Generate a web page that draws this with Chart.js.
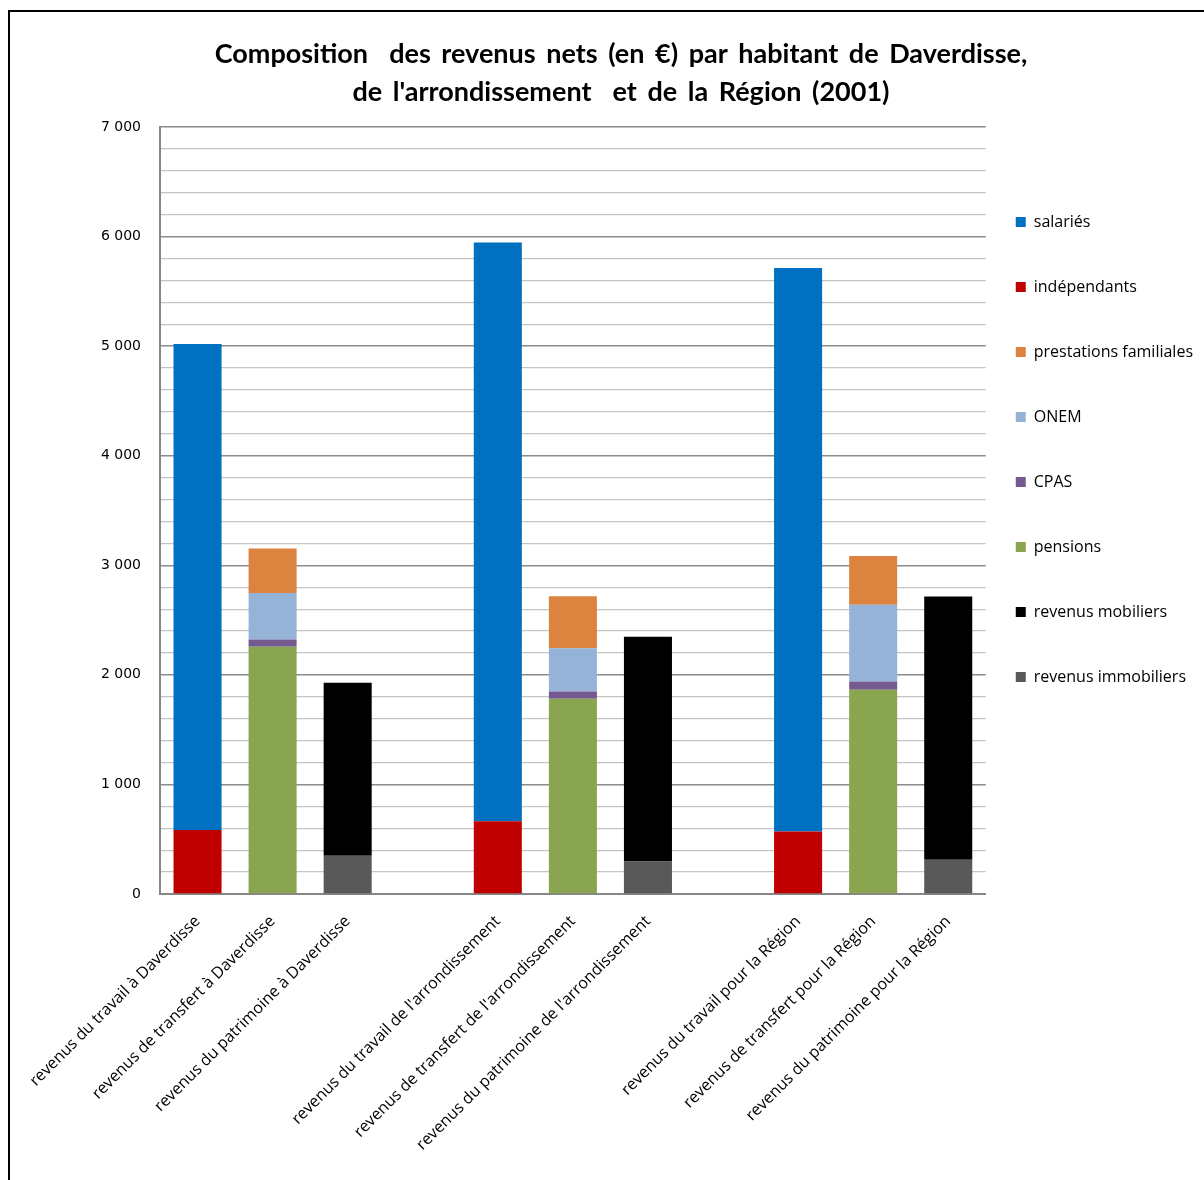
<!DOCTYPE html>
<html>
<head>
<meta charset="utf-8">
<script src="https://cdn.jsdelivr.net/npm/chart.js@4.4.1/dist/chart.umd.min.js"></script>
<style>
  html, body { margin: 0; padding: 0; background: #fff; overflow: hidden; width: 1204px; height: 1180px; }
  #frame { position: absolute; left: 8px; top: 10px; width: 1300px; height: 1300px; border-left: 2px solid #000; border-top: 2px solid #000; }
  #wrap { position: absolute; left: 11px; top: 13px; width: 1220px; height: 1167px; }
</style>
</head>
<body>
<div id="frame"></div>
<div id="wrap"><canvas id="c"></canvas></div>
<script>
const categories = [
  "revenus du travail à Daverdisse",
  "revenus de transfert à Daverdisse",
  "revenus du patrimoine à Daverdisse",
  "",
  "revenus du travail de l'arrondissement",
  "revenus de transfert de l'arrondissement",
  "revenus du patrimoine de l'arrondissement",
  "",
  "revenus du travail pour la Région",
  "revenus de transfert pour la Région",
  "revenus du patrimoine pour la Région"
];
const salaries      = [4435, null, null, null, 5280, null, null, null, 5143, null, null];
const independants  = [585,  null, null, null, 665,  null, null, null, 570,  null, null];
const prestations   = [null, 406,  null, null, null, 475,  null, null, null, 444,  null];
const onem          = [null, 423,  null, null, null, 396,  null, null, null, 701,  null];
const cpas          = [null, 67,   null, null, null, 64,   null, null, null, 76,   null];
const pensions      = [null, 2256, null, null, null, 1783, null, null, null, 1863, null];
const mobiliers     = [null, null, 1579, null, null, null, 2051, null, null, null, 2404];
const immobiliers   = [null, null, 348,  null, null, null, 296,  null, null, null, 312];
const yTicks = [0, 1000, 2000, 3000, 4000, 5000, 6000, 7000];

function ds(label, data, color) {
  return { label, data, backgroundColor: color, borderWidth: 0,
           categoryPercentage: 1.0, barPercentage: 0.64 };
}

const fmt = v => String(v).replace(/\B(?=(\d{3})+(?!\d))/g, ' ');

const layoutTweaks = {
  id: 'layoutTweaks',
  afterLayout(chart) {
    chart.legend.left -= 19;
    chart.legend.right -= 19;
  },
  beforeDraw(chart) {
    const t = chart.titleBlock;
    if (t && !t._spaced) {
      const orig = t.draw;
      t.draw = function () {
        const c = this.ctx;
        c.save();
        c.wordSpacing = '4px';
        orig.apply(this, arguments);
        c.restore();
      };
      t._spaced = true;
    }
  }
};

const chart = new Chart(document.getElementById('c'), {
  type: 'bar',
  data: {
    labels: categories,
    datasets: [
      ds('revenus immobiliers', immobiliers, '#595959'),
      ds('revenus mobiliers', mobiliers, '#000000'),
      ds('pensions', pensions, '#8AA54F'),
      ds('CPAS', cpas, '#745A8F'),
      ds('ONEM', onem, '#95B3D7'),
      ds('prestations familiales', prestations, '#DC843F'),
      ds('indépendants', independants, '#C00000'),
      ds('salariés', salaries, '#0070C0')
    ]
  },
  plugins: [layoutTweaks],
  options: {
    responsive: true,
    maintainAspectRatio: false,
    animation: false,
    layout: { padding: { left: 9, right: 9, top: 0, bottom: 0 } },
    plugins: {
      tooltip: { enabled: false },
      title: {
        display: true,
        text: ["Composition  des revenus nets (en €) par habitant de Daverdisse,", "de l'arrondissement  et de la Région (2001)"],
        font: { family: 'Lato', size: 27, weight: 'bold', lineHeight: 1.407 },
        color: '#000',
        padding: { top: 22, bottom: 16 }
      },
      legend: {
        position: 'right',
        align: 'start',
        reverse: true,
        maxWidth: 245,
        title: { display: true, text: ' ', font: { size: 10, lineHeight: 1.2 }, padding: { top: 140, bottom: 0 } },
        labels: {
          boxWidth: 10, boxHeight: 10, padding: 49,
          font: { family: 'Open Sans', size: 16 }, color: '#000'
        }
      }
    },
    scales: {
      x: {
        stacked: true,
        grid: { display: true, drawOnChartArea: false, drawTicks: false },
        border: { display: true, color: '#868686', width: 2 },
        ticks: {
          autoSkip: false, minRotation: 45, maxRotation: 45, padding: 18,
          font: { family: 'Open Sans', size: 16 }, color: '#000'
        },
        afterFit: s => { s.height = 286; s.paddingLeft = 0; s.paddingRight = 0; }
      },
      y: {
        stacked: true,
        min: 0, max: 7000,
        grid: {
          drawTicks: false,
          color: ctx => (ctx.tick && yTicks.includes(ctx.tick.value)) ? '#8c8c8c' : '#c4c4c4',
          lineWidth: ctx => (ctx.tick && yTicks.includes(ctx.tick.value)) ? 1.5 : 1.2
        },
        border: { display: true, color: '#868686', width: 2 },
        ticks: {
          stepSize: 200, padding: 19,
          font: { family: 'DejaVu Sans', size: 14 }, color: '#000',
          callback: v => yTicks.includes(v) ? fmt(v) : ''
        },
        afterFit: s => { s.width = 140; }
      }
    }
  }
});
</script>
</body>
</html>
